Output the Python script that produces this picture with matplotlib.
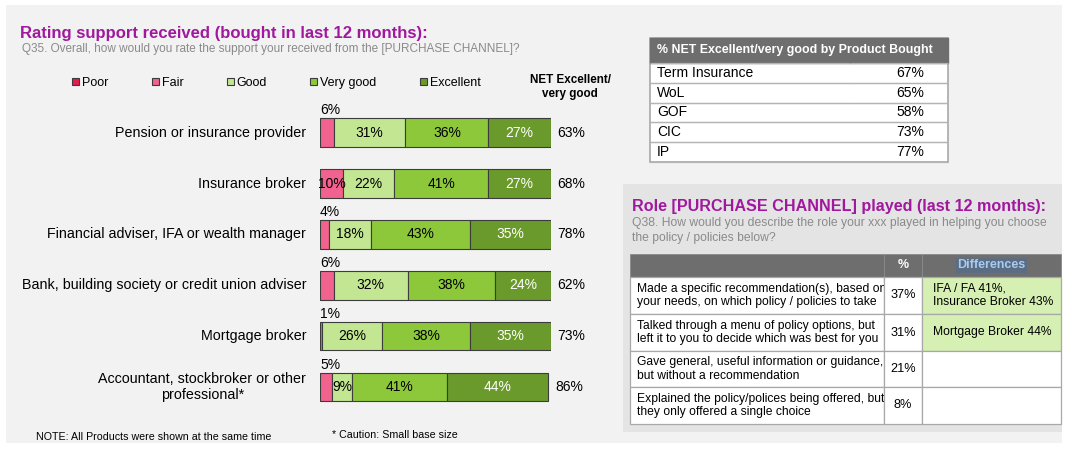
import matplotlib
matplotlib.use('Agg')
import matplotlib.pyplot as plt
from matplotlib.patches import Rectangle

plt.rcParams['font.family'] = ['Liberation Sans', 'DejaVu Sans']

# ---------------- data ----------------
categories = ["Pension or insurance provider",
              "Insurance broker",
              "Financial adviser, IFA or wealth manager",
              "Bank, building society or credit union adviser",
              "Mortgage broker",
              "Accountant, stockbroker or other\nprofessional*"]
levels = ["Poor", "Fair", "Good", "Very good", "Excellent"]
poor = [0, 0, 0, 0, 0, 0]
fair = [6, 10, 4, 6, 1, 5]
good = [31, 22, 18, 32, 26, 9]
very_good = [36, 41, 43, 38, 38, 41]
excellent = [27, 27, 35, 24, 35, 44]
net_excellent_vgood = [63, 68, 78, 62, 73, 86]

products = ["Term Insurance", "WoL", "GOF", "CIC", "IP"]
product_net = [67, 65, 58, 73, 77]

roles = ["Made a specific recommendation(s), based on\nyour needs, on which policy / policies to take",
         "Talked through a menu of policy options, but\nleft it to you to decide which was best for you",
         "Gave general, useful information or guidance,\nbut without a recommendation",
         "Explained the policy/polices being offered, but\nthey only offered a single choice"]
role_pct = [37, 31, 21, 8]
role_diff = ["IFA / FA 41%,\nInsurance Broker 43%", "Mortgage Broker 44%", "", ""]

# ---------------- style ----------------
colors = ["#e8194f", "#f2628e", "#c2e692", "#8cc83a", "#6b9a2c"]
label_colors = ["black", "black", "black", "black", "white"]
purple = "#a0189e"
grey_txt = "#8a8a8a"
hdr_grey = "#6e6e6e"

W, H = 1076, 450
fig = plt.figure(figsize=(W / 100, H / 100), dpi=100)
fig.patch.set_facecolor("white")

bg = fig.add_axes([0, 0, 1, 1])
bg.set_xlim(0, W)
bg.set_ylim(H, 0)
bg.axis("off")
bg.add_patch(Rectangle((6, 5), 1056, 438, facecolor="#f2f2f2", edgecolor="none", zorder=-2))
bg.add_patch(Rectangle((623, 184), 439, 248, facecolor="#e4e4e4", edgecolor="none", zorder=-1))

# titles
bg.text(20, 38, "Rating support received (bought in last 12 months):", color=purple,
        fontsize=12, fontweight="bold", va="baseline", ha="left")
bg.text(22, 49, "Q35. Overall, how would you rate the support your received from the [PURCHASE CHANNEL]?",
        color=grey_txt, fontsize=8.5, va="center", ha="left")
bg.text(570, 87, "NET Excellent/\nvery good", fontsize=8.4, fontweight="bold",
        ha="center", va="center", linespacing=1.15)
bg.text(36, 437, "NOTE: All Products were shown at the same time", fontsize=7.7,
        ha="left", va="center")
bg.text(332, 435, "* Caution: Small base size", fontsize=7.7, ha="left", va="center")

bg.text(632, 211.5, "Role [PURCHASE CHANNEL] played (last 12 months):", color=purple,
        fontsize=11.6, fontweight="bold", va="baseline", ha="left")
bg.text(632, 230.5, "Q38. How would you describe the role your xxx played in helping you choose\n"
        "the policy / policies below?", color=grey_txt, fontsize=8.7, va="center",
        ha="left", linespacing=1.3)

# ---------------- bars ----------------
ytop, ybot = 107.3, 412.4
ax = fig.add_axes([320 / W, 1 - ybot / H, 230.7 / W, (ybot - ytop) / H])
ax.set_zorder(2)
ax.patch.set_alpha(0)
ax.set_xlim(0, 100)
ax.set_ylim(len(categories) - 0.5, -0.5)
ax.axis("off")

series = [poor, fair, good, very_good, excellent]
ypos = list(range(len(categories)))
left = [0] * len(categories)
handles = []
for si, (vals, col) in enumerate(zip(series, colors)):
    bars = ax.barh(ypos, vals, left=left, height=0.56, color=col,
                   edgecolor="#3c3c3c", linewidth=0.8, label=levels[si])
    handles.append(bars)
    for i, v in enumerate(vals):
        if v <= 0:
            continue
        if si == 1 and v < 10:
            ax.text(left[i], i - 0.30, f"{v}%", ha="left", va="bottom", fontsize=10)
        else:
            ax.text(left[i] + v / 2, i, f"{v}%", ha="center", va="center",
                    fontsize=10, color=label_colors[si])
    left = [l + v for l, v in zip(left, vals)]

for i, (tot, n) in enumerate(zip(left, net_excellent_vgood)):
    ax.text(tot + 3, i, f"{n}%", ha="left", va="center", fontsize=10)
    ax.text(-6.0, i, categories[i], ha="right", va="center", fontsize=10.3,
            multialignment="center", linespacing=1.2)

fig.legend(handles=handles, labels=levels, ncol=5, loc="center left",
           bbox_to_anchor=(72 / W, 1 - 83 / H), frameon=False, fontsize=9,
           handlelength=0.56, handleheight=0.56, handletextpad=0.25,
           columnspacing=3.45, borderpad=0, borderaxespad=0)

# ---------------- tables ----------------
def place_table(cell_text, col_w, row_h, box):
    x0, y0, x1, y1 = box
    tb = bg.table(cellText=cell_text, colWidths=col_w,
                  bbox=[x0 / W, 1 - y1 / H, (x1 - x0) / W, (y1 - y0) / H])
    tb.set_zorder(3)
    tb.auto_set_font_size(False)
    for (r, c), cell in tb.get_celld().items():
        cell.set_height(row_h[r])
        cell.set_width(col_w[c])
    return tb

t1_box = (650, 38, 948, 162)
bg.add_patch(Rectangle((t1_box[0], t1_box[1]), t1_box[2] - t1_box[0], t1_box[3] - t1_box[1],
                       facecolor="white", edgecolor="#a8a8a8", linewidth=1.2, zorder=2.5))
t1_text = [["", "% NET Excellent/very good by Product Bought"]] + \
          [[p, f"{v}%"] for p, v in zip(products, product_net)]
t1 = place_table(t1_text, [200, 98], [25] + [19.8] * len(products), t1_box)
for (r, c), cell in t1.get_celld().items():
    txt = cell.get_text()
    if r == 0:
        cell.set_facecolor(hdr_grey)
        cell.set_edgecolor(hdr_grey)
        txt.set_color("white")
        txt.set_fontweight("bold")
        txt.set_fontsize(8.9)
        txt.set_ha("right")
        cell.PAD = 0.16
    else:
        cell.set_facecolor("none")
        cell.set_edgecolor("#b4b4b4")
        cell.set_linewidth(0.9)
        txt.set_fontsize(10)
        if c == 0:
            cell.visible_edges = "BT"
            txt.set_ha("left")
            cell.PAD = 0.035
        else:
            cell.visible_edges = "BT"
            txt.set_ha("right")
            cell.PAD = 0.245

t2_text = [["", "%", "Differences"]] + \
          [[r, f"{p}%", d] for r, p, d in zip(roles, role_pct, role_diff)]
t2 = place_table(t2_text, [254, 38, 139], [23, 37, 37, 36, 37], (630, 254, 1061, 424))
for (r, c), cell in t2.get_celld().items():
    txt = cell.get_text()
    txt.set_linespacing(1.17)
    if r == 0:
        cell.set_facecolor(hdr_grey)
        cell.set_edgecolor("#8a8a8a")
        cell.set_linewidth(0.6)
        txt.set_color("white")
        txt.set_fontweight("bold")
        txt.set_fontsize(9)
        txt.set_ha("center")
        if c == 2:
            txt.set_color("#a9cbf2")
            txt.set_bbox(dict(facecolor="#5a6d83", edgecolor="none", pad=1.2))
    else:
        cell.set_edgecolor("#a8a8a8")
        cell.set_linewidth(0.9)
        txt.set_fontsize(8.7)
        if c == 2 and role_diff[r - 1]:
            cell.set_facecolor("#d6efb3")
        else:
            cell.set_facecolor("white")
        if c == 0:
            txt.set_ha("left")
            cell.PAD = 0.028
        elif c == 1:
            txt.set_ha("center")
            txt.set_fontsize(9.2)
        else:
            txt.set_ha("left")
            cell.PAD = 0.08

fig.savefig("out.png", dpi=100, facecolor="white")
